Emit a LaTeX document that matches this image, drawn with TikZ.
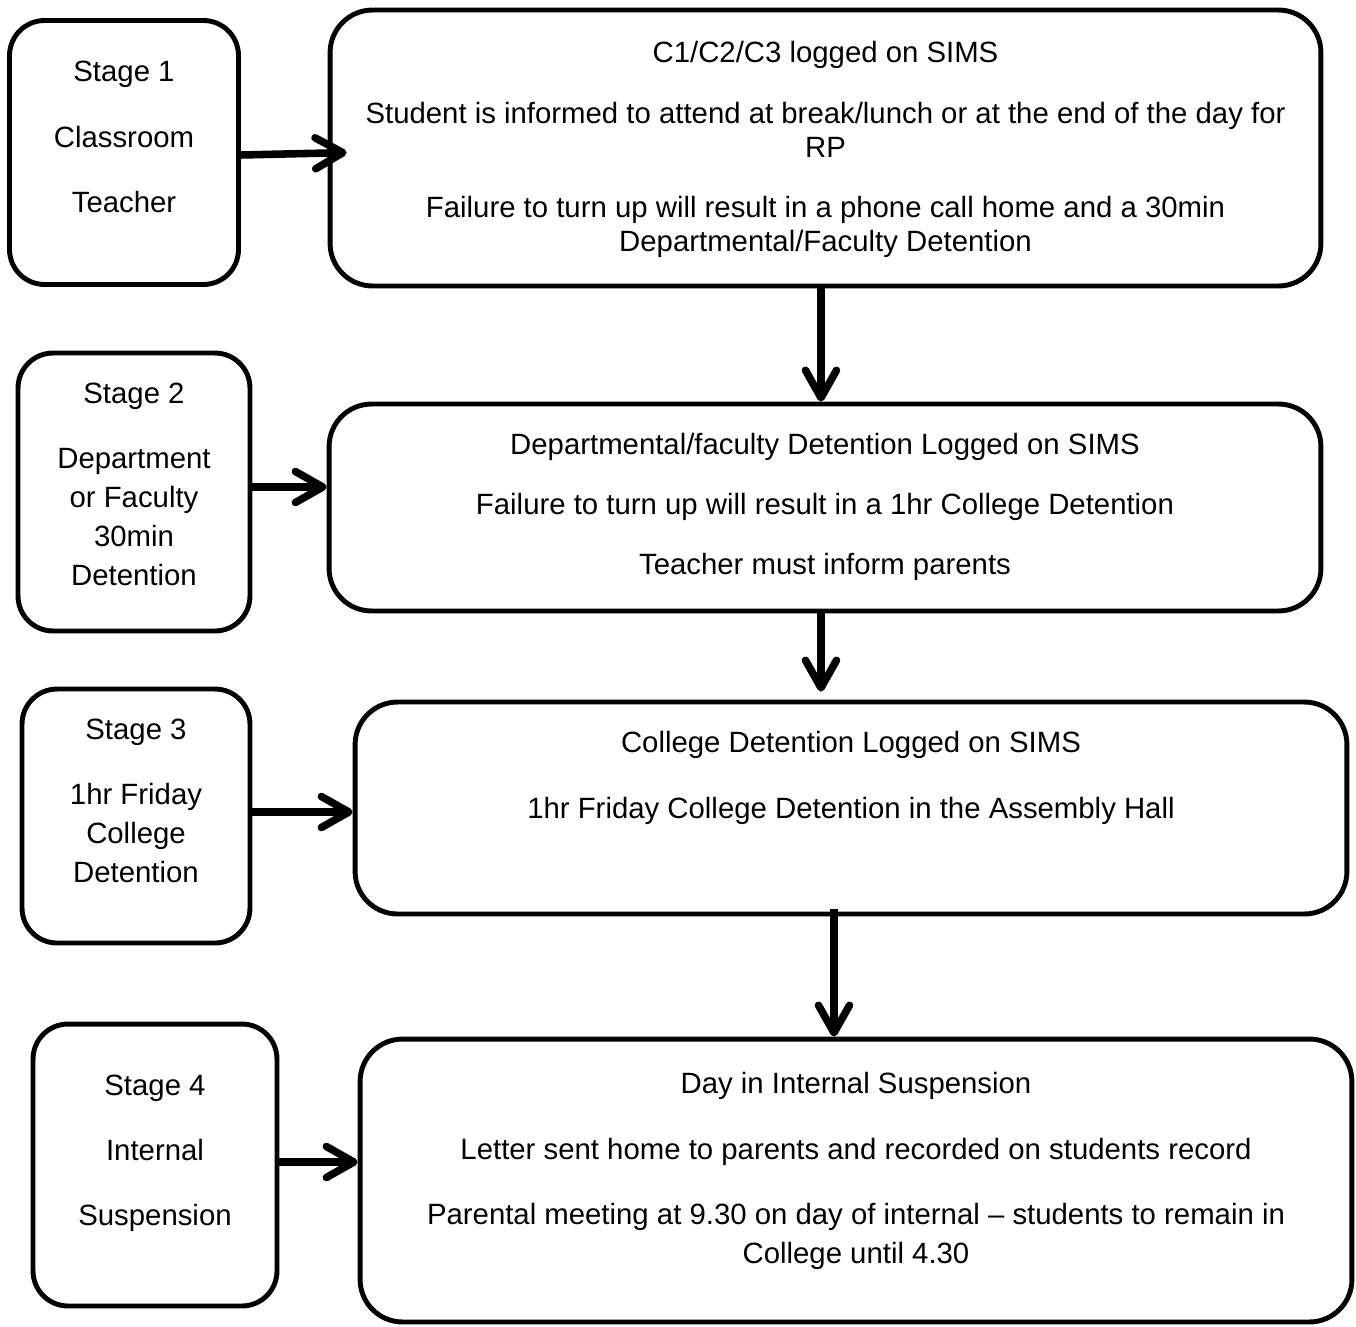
\documentclass[tikz,border=0pt]{standalone}
\usepackage{fontspec}
\setmainfont{Liberation Sans}
\usetikzlibrary{arrows.meta}

\begin{document}
\begin{tikzpicture}[x=0.02cm, y=-0.02cm,
    >={Straight Barb[length=0.55cm,width=0.62cm,round]},
    stagebox/.style={draw, line width=2.8pt, rounded corners=0.7cm},
    actionbox/.style={draw, line width=2.8pt, rounded corners=0.85cm},
    boxtext/.style={anchor=north, inner sep=0pt, align=center, font=\fontsize{16.7}{#1}\selectfont},
    boxtext/.default=19.35,
    flow/.style={->, line width=4.3pt}]
    \useasboundingbox (0,0) rectangle (1356,1326);

    % left column: stages
    \node[stagebox, minimum width=4.58cm, minimum height=5.28cm] (s1) at (124,152.5) {};
    \node[stagebox, minimum width=4.64cm, minimum height=5.56cm] (s2) at (134,492) {};
    \node[stagebox, minimum width=4.56cm, minimum height=5.08cm] (s3) at (136,816) {};
    \node[stagebox, minimum width=4.88cm, minimum height=5.64cm] (s4) at (155,1165) {};

    % right column: what happens
    \node[actionbox, minimum width=19.82cm, minimum height=5.52cm] (b1) at (825.5,148) {};
    \node[actionbox, minimum width=19.84cm, minimum height=4.14cm] (b2) at (825,507.5) {};
    \node[actionbox, minimum width=19.84cm, minimum height=4.24cm] (b3) at (851,808) {};
    \node[actionbox, minimum width=19.84cm, minimum height=5.66cm] (b4) at (856,1180.5) {};

    \node[boxtext=22.2] (st1) at (s1.north |- 0,61) {Stage 1\\[0.54cm]Classroom\\[0.52cm]Teacher};
    \node[boxtext=22.2] (st2) at (s2.north |- 0,383) {Stage 2\\[0.52cm]Department\\or Faculty\\30min\\Detention};
    \node[boxtext=22.2] (st3) at (s3.north |- 0,719) {Stage 3\\[0.52cm]1hr Friday\\College\\Detention};
    \node[boxtext=22.2] (st4) at (s4.north |- 0,1075) {Stage 4\\[0.52cm]Internal\\[0.52cm]Suspension};

    \node[boxtext] (bt1) at (b1.north |- 0,41) {C1/C2/C3 logged on SIMS\\[0.54cm]
        Student is informed to attend at break/lunch or at the end of the day for\\RP\\[0.52cm]
        Failure to turn up will result in a phone call home and a 30min\\Departmental/Faculty Detention};
    \node[boxtext] (bt2) at (b2.north |- 0,433) {Departmental/faculty Detention Logged on SIMS\\[0.52cm]
        Failure to turn up will result in a 1hr College Detention\\[0.52cm]
        Teacher must inform parents};
    \node[boxtext] (bt3) at (b3.north |- 0,731) {College Detention Logged on SIMS\\[0.64cm]
        1hr Friday College Detention in the Assembly Hall};
    \node[boxtext=22.2] (bt4) at (b4.north |- 0,1072) {Day in Internal Suspension\\[0.54cm]
        Letter sent home to parents and recorded on students record\\[0.52cm]
        Parental meeting at 9.30 on day of internal -- students to remain in\\College until 4.30};

    % stage to box
    \path[flow]
        (s1.east |- 0,155) edge[shorten >=-0.38cm] (b1.west |- 0,153)
        (s2.east |- 0,487) edge (b2.west |- 0,487)
        (s3.east |- 0,812) edge (b3.west |- 0,812)
        (s4.east |- 0,1162) edge (b4.west |- 0,1162);

    % down the chain
    \path[flow]
        (821,0 |- b1.south) edge (821,0 |- b2.north)
        (821,0 |- b2.south) edge[shorten >=0.16cm] (821,0 |- b3.north)
        (834,0 |- b3.south) edge[shorten <=-0.14cm] (834,0 |- b4.north);
\end{tikzpicture}
\end{document}
